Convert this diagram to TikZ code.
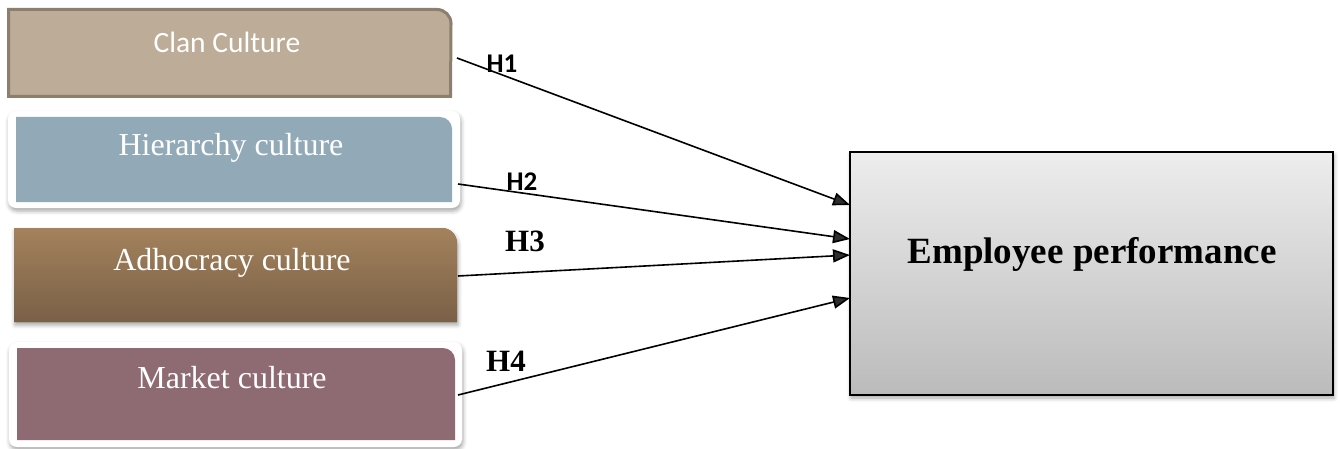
\documentclass[tikz,border=0pt]{standalone}
\usepackage{fontspec}
\setmainfont{Liberation Serif}
\newfontfamily\calibri{Carlito}
\usetikzlibrary{arrows.meta,shadows.blur,calc}
\definecolor{clanfill}{HTML}{BDAC97}
\definecolor{clanline}{HTML}{8C7F6D}
\definecolor{hierfill}{HTML}{92A9B8}
\definecolor{adhtop}{HTML}{A3825C}
\definecolor{adhbot}{HTML}{7A6047}
\definecolor{markfill}{HTML}{8E6A73}
\definecolor{emptop}{HTML}{EDEDED}
\definecolor{empbot}{HTML}{BBBBBB}
\begin{document}
\begin{tikzpicture}[x=1pt,y=-1pt,
  area/.style={inner sep=0pt,outer sep=0pt},
  boxlabel/.style={anchor=base,inner sep=0pt,text=white},
  link/.style={line width=1.6pt,-{Triangle[length=17pt,width=13pt]}},
  hyp/.style={inner sep=0pt,font=\bfseries},
  soft/.style={blur shadow={shadow xshift=1pt,shadow yshift=-3pt,shadow blur radius=4pt,shadow opacity=35}}]
\useasboundingbox (0,0) rectangle (1340,449);

% Clan culture: tab with heavy outline
\draw[clanline,fill=clanfill,line width=3pt]
  (8.5,96.5) -- (8.5,9.5) -- (437,9.5) arc[start angle=90,end angle=0,radius=14pt] -- (450.5,96.5) -- cycle;
\node[area,minimum width=445pt,minimum height=90pt] (clan) at (229.5,53) {};
\node[boxlabel,font=\calibri\fontsize{29.5}{32}\selectfont] (clantxt) at (227,53) {Clan Culture};

% Hierarchy culture: white frame with shadow
\fill[white,rounded corners=8pt,soft] (8,111) rectangle (460,208);
\fill[hierfill] (16,202) -- (16,117) -- (440,117) arc[start angle=90,end angle=0,radius=12pt] -- (452,202) -- cycle;
\node[area,minimum width=436pt,minimum height=85pt] (hier) at (234,159.5) {};
\node[boxlabel,font=\fontsize{32}{34}\selectfont] (hiertxt) at (231,156) {Hierarchy culture};

% Adhocracy culture: shaded tab
\path[soft,fill=adhbot] (14,322) -- (14,228) -- (442,228) arc[start angle=90,end angle=0,radius=15pt] -- (457,322) -- cycle;
\shade[top color=adhtop,bottom color=adhbot] (14,322) -- (14,228) -- (442,228) arc[start angle=90,end angle=0,radius=15pt] -- (457,322) -- cycle;
\node[area,minimum width=443pt,minimum height=94pt] (adh) at (235.5,275) {};
\node[boxlabel,font=\fontsize{32}{34}\selectfont] (adhtxt) at (232,270) {Adhocracy culture};

% Market culture: white frame with shadow
\fill[white,rounded corners=8pt,soft] (9,342) rectangle (462,447);
\fill[markfill] (17,440) -- (17,348) -- (443,348) arc[start angle=90,end angle=0,radius=12pt] -- (455,440) -- cycle;
\node[area,minimum width=438pt,minimum height=92pt] (market) at (236,394) {};
\node[boxlabel,font=\fontsize{32}{34}\selectfont] (markettxt) at (232,388) {Market culture};

% Dependent variable
\node[area,draw,line width=1.4pt,top color=emptop,bottom color=empbot,soft,
      minimum width=483pt,minimum height=243pt] (emp) at (1091.5,273.5) {};
\node[anchor=base,inner sep=0pt,font=\bfseries\fontsize{37}{40}\selectfont] (emptxt) at (1092,263) {Employee performance};

% Hypothesised paths
\draw[link] ($(clan.east)+(5,5)$) -- ($(emp.north west)+(0,53)$);
\draw[link] ($(hier.east)+(6,24.5)$) -- ($(emp.north west)+(0,87)$);
\draw[link] ($(adh.east)+(1,1)$) -- ($(emp.north west)+(0,103)$);
\draw[link] ($(market.east)+(3,1)$) -- ($(emp.north west)+(0,146)$);

% Path labels
\node[hyp,font=\calibri\bfseries\fontsize{27}{28}\selectfont] (h1) at (502,64) {H1};
\node[hyp,font=\calibri\bfseries\fontsize{27}{28}\selectfont] (h2) at (522,182) {H2};
\node[hyp,font=\bfseries\fontsize{31}{32}\selectfont] (h3) at (525,241) {H3};
\node[hyp,font=\bfseries\fontsize{31}{32}\selectfont] (h4) at (506,361) {H4};
\end{tikzpicture}
\end{document}
